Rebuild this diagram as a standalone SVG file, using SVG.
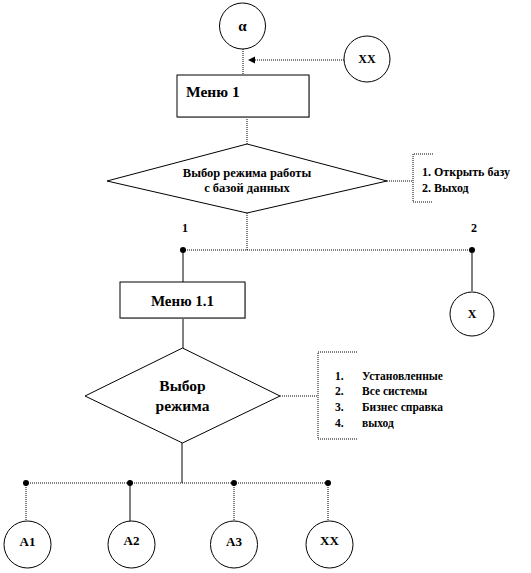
<svg xmlns="http://www.w3.org/2000/svg" width="531" height="573" viewBox="0 0 531 573">
<style>
.node{fill:#fff;stroke:#000;stroke-width:1}
.shadow{fill:#ccc;stroke:none}
.dot{fill:none;stroke:#000;stroke-width:1;stroke-dasharray:1 1}
.solid{fill:none;stroke:#000;stroke-width:1}
.pt{fill:#000}
text{font-family:"Liberation Serif","DejaVu Serif","Times New Roman",serif;font-weight:bold;fill:#000}
.c{text-anchor:middle}
</style>
<rect width="531" height="573" fill="#fff"/>
<g id="connectors">
<line class="dot" x1="243" y1="49" x2="243" y2="75"/>
<line class="dot" x1="344" y1="60" x2="254" y2="60"/>
<polygon class="pt" points="248,60 255,56.5 255,63.5"/>
<line class="dot" x1="247" y1="117" x2="247" y2="144"/>
<line class="dot" x1="387" y1="181" x2="413" y2="181"/>
<line class="dot" x1="247" y1="213" x2="247" y2="250"/>
<line class="dot" x1="183" y1="250" x2="472" y2="250"/>
<circle class="pt" cx="183" cy="250" r="3"/>
<circle class="pt" cx="472" cy="250" r="3"/>
<line class="solid" x1="183" y1="250" x2="183" y2="282"/>
<line class="solid" x1="472" y1="250" x2="472" y2="291"/>
<line class="solid" x1="183" y1="318" x2="183" y2="348"/>
<line class="dot" x1="280" y1="396" x2="318" y2="396"/>
<line class="solid" x1="182" y1="443" x2="182" y2="483"/>
<line class="dot" x1="26" y1="483" x2="328" y2="483"/>
<circle class="pt" cx="26" cy="483" r="3"/>
<circle class="pt" cx="130" cy="483" r="3"/>
<circle class="pt" cx="234" cy="483" r="3"/>
<circle class="pt" cx="328" cy="483" r="3"/>
<line class="dot" x1="26" y1="483" x2="26" y2="521"/>
<line class="solid" x1="130" y1="483" x2="130" y2="521"/>
<line class="dot" x1="234" y1="483" x2="234" y2="521"/>
<line class="dot" x1="328" y1="483" x2="328" y2="521"/>
</g>
<g id="alpha">
<circle class="node" cx="242.5" cy="26" r="23"/>
<text class="c" x="242.5" y="31" font-size="15">α</text>
</g>
<g id="xx-top">
<circle class="node" cx="367" cy="59" r="23"/>
<text class="c" x="367" y="63" font-size="12">XX</text>
</g>
<g id="menu1">
<rect class="shadow" x="178" y="76" width="132" height="42"/>
<rect class="node" x="177" y="75" width="132" height="42"/>
<text x="186" y="97" font-size="15.5">Меню 1</text>
</g>
<g id="decision1">
<polygon class="node" points="247,144 387,181 247,213 107,181"/>
<text class="c" x="247" y="177" font-size="12.5">Выбор режима работы</text>
<text class="c" x="247" y="192" font-size="12.5">с базой данных</text>
</g>
<g id="note1">
<path class="dot" d="M433,154 H413 V202 H433"/>
<text x="422" y="176" font-size="12">1. Открыть  базу</text>
<text x="422" y="192" font-size="12">2.  Выход</text>
</g>
<text class="c" x="185" y="232" font-size="12">1</text>
<text class="c" x="474" y="232" font-size="12">2</text>
<g id="menu11">
<rect class="shadow" x="121" y="283" width="125" height="36"/>
<rect class="node" x="120" y="282" width="125" height="36"/>
<text class="c" x="182.5" y="306" font-size="15">Меню 1.1</text>
</g>
<g id="x">
<circle class="node" cx="472" cy="314" r="22"/>
<text class="c" x="472" y="318" font-size="12">X</text>
</g>
<g id="decision2">
<polygon class="node" points="182.5,348 280,396 182.5,443 85,396"/>
<text class="c" x="182.5" y="391" font-size="15.5">Выбор</text>
<text class="c" x="182.5" y="411" font-size="15.5">режима</text>
</g>
<g id="note2">
<path class="dot" d="M357,352 H318 V439 H357"/>
<text x="335" y="380" font-size="11.5">1.</text>
<text x="362" y="380" font-size="11.5">Установленные</text>
<text x="335" y="395" font-size="11.5">2.</text>
<text x="362" y="395" font-size="11.5">Все системы</text>
<text x="335" y="411" font-size="11.5">3.</text>
<text x="362" y="411" font-size="11.5">Бизнес справка</text>
<text x="335" y="427" font-size="11.5">4.</text>
<text x="362" y="427" font-size="11.5">выход</text>
</g>
<g id="a1">
<circle class="node" cx="27.5" cy="544.5" r="23.5"/>
<text class="c" x="27.5" y="546" font-size="13">A1</text>
</g>
<g id="a2">
<circle class="node" cx="131.5" cy="544.5" r="23.5"/>
<text class="c" x="131.5" y="545" font-size="13">A2</text>
</g>
<g id="a3">
<circle class="node" cx="234" cy="544.5" r="23.5"/>
<text class="c" x="234" y="546" font-size="13">A3</text>
</g>
<g id="xx-bottom">
<circle class="node" cx="329.5" cy="544.5" r="23.5"/>
<text class="c" x="329.5" y="545" font-size="13">XX</text>
</g>
</svg>
